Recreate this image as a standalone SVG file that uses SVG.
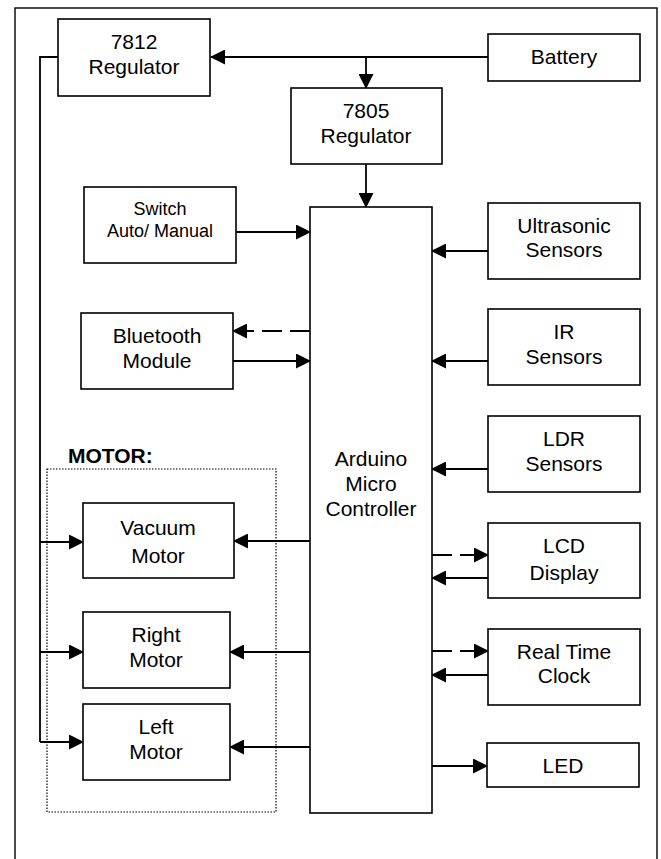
<svg xmlns="http://www.w3.org/2000/svg" width="661" height="859" viewBox="0 0 661 859">
<style>
.box{fill:#fff;stroke:#000;stroke-width:1.6}
.t{font-family:"Liberation Sans",Arial,sans-serif;font-size:21px;text-anchor:middle;fill:#000}
.s{font-size:18px}
.c{fill:none;stroke:#000;stroke-width:1.8}
.d{stroke-dasharray:20 8}
.a{marker-end:url(#ah)}
</style>
<defs>
<marker id="ah" markerUnits="userSpaceOnUse" markerWidth="15" markerHeight="15" refX="14" refY="7.5" orient="auto" viewBox="0 0 15 15">
<path d="M0,0 L15,7.5 L0,15 z" fill="#000"/>
</marker>
</defs>
<rect x="0" y="0" width="661" height="859" fill="#fff"/>
<rect id="frame" x="15" y="8" width="642" height="900" fill="none" stroke="#000" stroke-width="1.4"/>
<g id="connectors">
<path class="c a" d="M488,57 H211"/>
<path class="c a" d="M366,57 V88"/>
<path class="c a" d="M366,164 V207"/>
<path class="c a" d="M236,232 H310"/>
<path class="c d a" d="M310,331 H233"/>
<path class="c a" d="M233,361 H310"/>
<path class="c a" d="M488,251 H432"/>
<path class="c a" d="M488,361 H432"/>
<path class="c a" d="M488,469 H432"/>
<path class="c d a" d="M432,555 H488"/>
<path class="c a" d="M488,578 H432"/>
<path class="c d a" d="M432,651 H488"/>
<path class="c a" d="M488,675 H432"/>
<path class="c a" d="M432,766 H487"/>
<path class="c a" d="M310,541 H234"/>
<path class="c a" d="M310,652 H230"/>
<path class="c a" d="M310,747 H230"/>
<path class="c" d="M58,57 H40 V742"/>
<path class="c a" d="M40,742 H83"/>
<path class="c a" d="M40,542 H83"/>
<path class="c a" d="M40,652 H83"/>
</g>
<g id="motor-group">
<rect x="47" y="469" width="229" height="343" fill="none" stroke="#000" stroke-width="1.2" stroke-dasharray="1.5 1.5"/>
<text class="t" x="68" y="463" text-anchor="start" style="text-anchor:start;font-weight:bold">MOTOR:</text>
</g>
<g id="reg7812"><rect class="box" x="58" y="19" width="152" height="77"/><text class="t" x="134" y="49">7812</text><text class="t" x="134" y="74">Regulator</text></g>
<g id="battery"><rect class="box" x="488" y="34" width="152" height="47"/><text class="t" x="564" y="64">Battery</text></g>
<g id="reg7805"><rect class="box" x="291" y="88" width="151" height="76"/><text class="t" x="366" y="118">7805</text><text class="t" x="366" y="143">Regulator</text></g>
<g id="switch"><rect class="box" x="84" y="187" width="152" height="76"/><text class="t s" x="160" y="215">Switch</text><text class="t s" x="160" y="237">Auto/ Manual</text></g>
<g id="bluetooth"><rect class="box" x="81" y="313" width="152" height="76"/><text class="t" x="157" y="343">Bluetooth</text><text class="t" x="157" y="368">Module</text></g>
<g id="arduino"><rect class="box" x="310" y="207" width="122" height="606"/><text class="t" x="371" y="466">Arduino</text><text class="t" x="371" y="491">Micro</text><text class="t" x="371" y="516">Controller</text></g>
<g id="ultrasonic"><rect class="box" x="488" y="203" width="152" height="76"/><text class="t" x="564" y="233">Ultrasonic</text><text class="t" x="564" y="257">Sensors</text></g>
<g id="ir"><rect class="box" x="488" y="309" width="152" height="76"/><text class="t" x="564" y="339">IR</text><text class="t" x="564" y="364">Sensors</text></g>
<g id="ldr"><rect class="box" x="488" y="416" width="152" height="76"/><text class="t" x="564" y="446">LDR</text><text class="t" x="564" y="471">Sensors</text></g>
<g id="lcd"><rect class="box" x="488" y="523" width="152" height="75"/><text class="t" x="564" y="553">LCD</text><text class="t" x="564" y="580">Display</text></g>
<g id="rtc"><rect class="box" x="488" y="629" width="152" height="76"/><text class="t" x="564" y="659">Real Time</text><text class="t" x="564" y="683">Clock</text></g>
<g id="led"><rect class="box" x="487" y="743" width="152" height="44"/><text class="t" x="563" y="773">LED</text></g>
<g id="vacuum"><rect class="box" x="83" y="503" width="151" height="75"/><text class="t" x="158" y="535">Vacuum</text><text class="t" x="158" y="563">Motor</text></g>
<g id="right-motor"><rect class="box" x="83" y="612" width="147" height="76"/><text class="t" x="156" y="642">Right</text><text class="t" x="156" y="667">Motor</text></g>
<g id="left-motor"><rect class="box" x="83" y="704" width="147" height="76"/><text class="t" x="156" y="734">Left</text><text class="t" x="156" y="759">Motor</text></g>
</svg>
